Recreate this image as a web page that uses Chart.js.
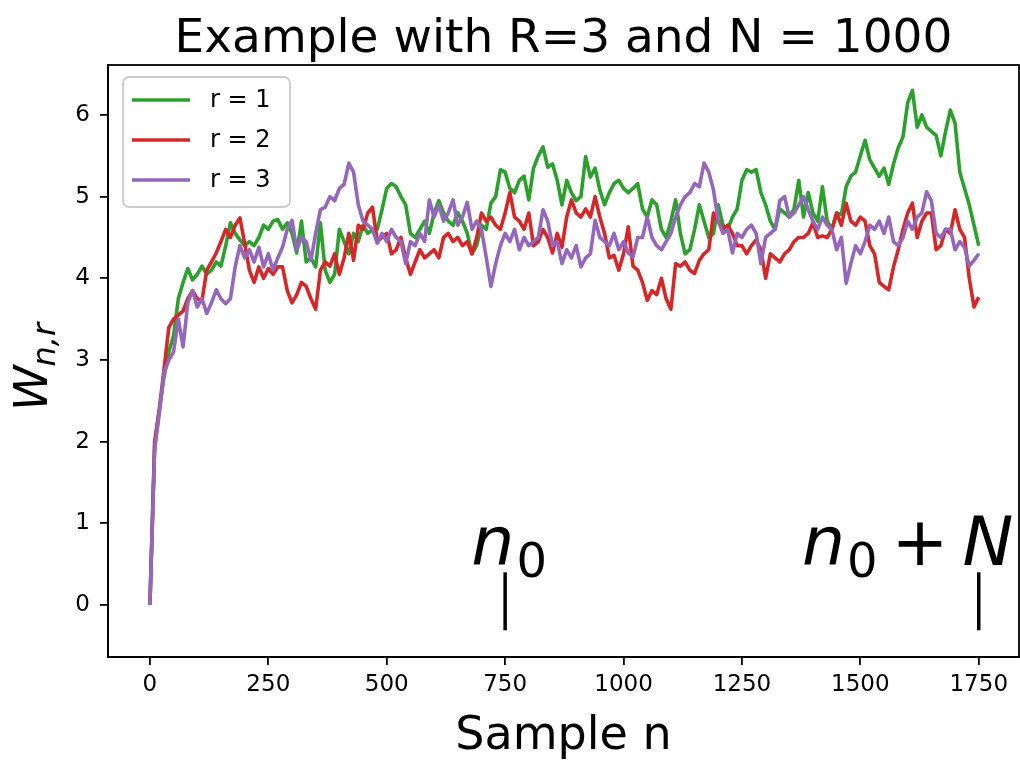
<!DOCTYPE html>
<html><head><meta charset="utf-8">
<script src="https://cdn.jsdelivr.net/npm/chart.js@4.4.0/dist/chart.umd.min.js"></script>
<style>html,body{margin:0;padding:0;background:#fff;} #wrap{width:1020px;height:762px;}</style>
</head><body><div id="wrap"><canvas id="c" width="1020" height="762"></canvas></div>
<script>
// ---- data ----
const sampleN = Array.from({length: 176}, (_, i) => i * 10);
const seriesR1 = [0,1.95,2.4,2.8,3.1,3.3,3.75,3.95,4.12,3.98,
4.05,4.15,4.05,4.1,4.2,4.15,4.4,4.68,4.55,4.47,
4.4,4.45,4.4,4.5,4.65,4.6,4.7,4.72,4.6,4.68,
4.55,4.31,4.7,4.2,4.25,4.14,4.68,4.1,3.95,4.05,
4.6,4.45,4.3,4.55,4.45,4.65,4.55,4.6,4.6,4.84,
5.1,5.16,5.12,5.0,4.9,4.55,4.5,4.6,4.7,4.55,
4.8,4.95,4.8,4.7,4.65,4.8,4.7,4.55,4.3,4.4,
4.65,4.6,4.92,5.0,5.33,5.3,5.1,5.05,5.2,5.25,
4.96,5.35,5.5,5.61,5.36,5.4,5.2,4.9,5.2,5.05,
4.95,5.0,5.49,5.24,5.35,5.08,4.9,5.05,5.16,5.2,
5.1,5.05,5.1,5.16,4.85,4.75,4.96,4.9,4.6,4.5,
4.7,4.96,4.55,4.3,4.35,4.6,4.9,4.7,4.5,4.55,
4.9,4.65,4.6,4.75,4.85,5.2,5.33,5.3,5.33,5.05,
4.9,4.7,4.6,4.85,4.8,4.75,4.85,5.2,4.75,5.05,
4.8,4.7,5.12,4.7,4.6,4.8,4.78,5.12,5.25,5.3,
5.5,5.69,5.45,5.35,5.25,5.35,5.15,5.4,5.6,5.73,
6.15,6.3,5.85,6.0,5.85,5.8,5.75,5.5,5.8,6.06,
5.9,5.3,5.1,4.9,4.65,4.4];
const seriesR2 = [0,2.0,2.4,2.9,3.4,3.5,3.55,3.6,3.75,3.85,
3.75,3.73,4.1,4.2,4.31,4.45,4.6,4.5,4.65,4.74,
4.43,4.1,3.95,4.14,4.0,4.12,4.05,4.14,4.14,3.85,
3.7,3.8,3.95,3.9,3.75,3.62,4.1,4.2,4.15,4.3,
4.05,4.25,4.55,4.22,4.65,4.6,4.8,4.87,4.45,4.5,
4.55,4.3,4.35,4.5,4.25,4.05,4.2,4.35,4.25,4.3,
4.35,4.25,4.5,4.55,4.45,4.5,4.4,4.45,4.3,4.5,
4.8,4.7,4.75,4.65,4.6,4.8,5.05,4.75,4.7,4.6,
4.8,4.4,4.45,4.6,4.5,4.31,4.55,4.38,4.75,4.96,
4.8,4.75,4.85,4.75,5.0,4.75,4.55,4.25,4.28,4.1,
4.3,4.63,4.15,4.1,3.95,3.73,3.85,3.8,4.0,3.75,
3.62,4.18,4.15,4.2,4.1,4.06,4.22,4.3,4.35,4.8,
4.7,4.6,4.65,4.55,4.4,4.4,4.3,4.4,4.47,4.35,
4.0,4.3,4.25,4.2,4.3,4.35,4.45,4.5,4.5,4.55,
4.68,4.5,4.52,4.5,4.6,4.8,4.65,4.92,4.7,4.65,
4.75,4.7,4.4,4.3,3.95,3.9,3.86,4.14,4.35,4.6,
4.8,4.92,4.5,4.7,4.8,4.8,4.35,4.4,4.6,4.55,
4.84,4.6,4.5,4.0,3.65,3.77];
const seriesR3 = [0,1.9,2.35,2.85,3.0,3.1,3.5,3.16,3.7,3.85,
3.65,3.75,3.57,3.7,3.86,3.75,3.69,3.75,4.14,4.4,
4.25,4.35,4.2,4.38,4.14,4.3,4.1,4.25,4.38,4.6,
4.71,4.35,4.5,4.45,4.22,4.55,4.84,4.87,5.0,4.95,
5.1,5.15,5.41,5.3,4.9,4.7,4.65,4.6,4.43,4.55,
4.45,4.6,4.5,4.45,4.18,4.45,4.4,4.55,4.45,4.96,
4.75,4.9,4.7,4.8,4.96,4.65,4.75,4.93,4.6,4.7,
4.6,4.26,3.9,4.18,4.4,4.55,4.45,4.6,4.35,4.5,
4.4,4.45,4.5,4.84,4.7,4.4,4.45,4.18,4.35,4.25,
4.4,4.14,4.25,4.3,4.71,4.5,4.45,4.4,4.55,4.35,
4.45,4.31,4.26,4.5,4.5,4.75,4.5,4.4,4.35,4.45,
4.55,4.75,4.9,5.0,5.05,5.16,5.12,5.41,5.3,5.08,
4.7,4.55,4.6,4.31,4.55,4.5,4.6,4.65,4.55,4.18,
4.5,4.55,4.6,4.95,5.0,4.75,4.8,4.9,5.0,4.84,
4.7,4.6,4.75,4.65,4.6,4.35,4.5,3.94,4.18,4.4,
4.3,4.45,4.65,4.6,4.7,4.55,4.75,4.45,4.4,4.5,
4.7,4.6,4.75,4.8,5.06,4.95,4.55,4.5,4.6,4.6,
4.35,4.45,4.38,4.15,4.22,4.3];
const seriesLabels = ['r = 1', 'r = 2', 'r = 3'];
const xTickValues = [0, 250, 500, 750, 1000, 1250, 1500, 1750];
const yTickValues = [0, 1, 2, 3, 4, 5, 6];
const titleText = 'Example with R=3 and N = 1000';
const xLabelText = 'Sample n';
const markN0 = 750;          // n0
const markN0N = 1750;        // n0 + N
const labelN0NCenter = 1600; // centre of the "n0 + N" text

// ---- styles ----
const colors = ['#2ca02c', '#d62728', '#9467bd'];
const FONT = '"DejaVu Sans", sans-serif';

function toPoints(arr) { return arr.map((v, i) => ({x: sampleN[i], y: v})); }

const allSeries = [seriesR1, seriesR2, seriesR3];
const datasets = allSeries.map((s, i) => ({
  label: seriesLabels[i],
  data: toPoints(s),
  borderColor: colors[i],
  backgroundColor: colors[i],
  borderWidth: 3.6,
  pointRadius: 0,
  tension: 0,
  fill: false,
  borderJoinStyle: 'round',
  order: 3 - i
}));

const decor = {
  id: 'decor',
  afterDraw(chart) {
    const ctx = chart.ctx, a = chart.chartArea;
    const xs = chart.scales.x, ys = chart.scales.y;
    ctx.save();
    // spines
    ctx.strokeStyle = '#000'; ctx.lineWidth = 1.8;
    ctx.strokeRect(a.left, a.top, a.right - a.left, a.bottom - a.top);
    ctx.fillStyle = '#000';
    // title
    ctx.font = '47px ' + FONT; ctx.textAlign = 'center'; ctx.textBaseline = 'alphabetic';
    ctx.fillText(titleText, (a.left + a.right) / 2, 52);
    // x label
    ctx.font = '46px ' + FONT;
    ctx.fillText(xLabelText, (a.left + a.right) / 2, 749);
    // y label W_{n,r}
    ctx.save();
    ctx.translate(47, 411); ctx.rotate(-Math.PI / 2);
    ctx.textAlign = 'left';
    ctx.font = 'italic 46px ' + FONT;
    ctx.fillText('W', 0, 0);
    const ww = ctx.measureText('W').width;
    ctx.font = 'italic 32px ' + FONT;
    ctx.fillText('n,r', ww - 1, 8);
    ctx.restore();
    // annotations
    const base = ys.getPixelForValue(0.49);
    ctx.textAlign = 'left';
    // n0
    ctx.font = 'italic 68px ' + FONT; const wn = ctx.measureText('n').width;
    ctx.font = '48px ' + FONT; const w0 = ctx.measureText('0').width;
    let sx = xs.getPixelForValue(markN0) - (wn + w0) / 2 + 3;
    ctx.font = 'italic 68px ' + FONT; ctx.fillText('n', sx, base);
    ctx.font = '48px ' + FONT; ctx.fillText('0', sx + wn + 2, base + 12);
    // n0 + N
    ctx.font = '68px ' + FONT; const wp = ctx.measureText('+').width;
    ctx.font = 'italic 68px ' + FONT; const wN = ctx.measureText('N').width;
    const gap = 14;
    const tot = wn + w0 + 2 + gap + wp + gap + wN;
    sx = xs.getPixelForValue(labelN0NCenter) - tot / 2;
    ctx.font = 'italic 68px ' + FONT; ctx.fillText('n', sx, base);
    ctx.font = '48px ' + FONT; ctx.fillText('0', sx + wn + 2, base + 12);
    let cx = sx + wn + 2 + w0 + gap;
    ctx.font = '68px ' + FONT; ctx.fillText('+', cx, base);
    cx += wp + gap;
    ctx.font = 'italic 68px ' + FONT; ctx.fillText('N', cx, base);
    // bars
    ctx.strokeStyle = '#000'; ctx.lineWidth = 3.5;
    [markN0, markN0N].forEach(v => {
      const px = xs.getPixelForValue(v);
      ctx.beginPath();
      ctx.moveTo(px, ys.getPixelForValue(0.40));
      ctx.lineTo(px, ys.getPixelForValue(-0.31));
      ctx.stroke();
    });
    // legend
    const lx = a.left + 15, ly = a.top + 12, lw = 167, lh = 130;
    ctx.beginPath();
    ctx.roundRect(lx, ly, lw, lh, 6);
    ctx.fillStyle = 'rgba(255,255,255,0.8)'; ctx.fill();
    ctx.strokeStyle = '#cccccc'; ctx.lineWidth = 1.8; ctx.stroke();
    ctx.font = '24px ' + FONT; ctx.textBaseline = 'middle'; ctx.textAlign = 'left';
    seriesLabels.forEach((lab, i) => {
      const yy = ly + 23 + 40 * i;
      ctx.strokeStyle = colors[i]; ctx.lineWidth = 3.3;
      ctx.beginPath(); ctx.moveTo(lx + 9, yy); ctx.lineTo(lx + 67, yy); ctx.stroke();
      ctx.fillStyle = '#000';
      ctx.fillText(lab, lx + 87, yy + 1);
    });
    ctx.restore();
  }
};

new Chart(document.getElementById('c'), {
  type: 'line',
  data: { datasets },
  options: {
    responsive: false,
    animation: false,
    devicePixelRatio: 1,
    layout: { padding: { top: 65, right: 1, left: 0, bottom: 0 } },
    plugins: { legend: { display: false }, title: { display: false }, tooltip: { enabled: false } },
    scales: {
      x: {
        type: 'linear', min: -88.5, max: 1835,
        afterBuildTicks: s => { s.ticks = xTickValues.map(v => ({value: v})); },
        afterFit: s => { s.height = 105; },
        grid: { display: true, drawOnChartArea: false, drawTicks: true, tickLength: 8, color: '#000', lineWidth: 1.8 },
        border: { display: true, color: '#000', width: 1.8 },
        ticks: { color: '#000', font: { family: 'DejaVu Sans', size: 23 }, padding: 6, maxRotation: 0,
                 callback: v => String(v) }
      },
      y: {
        type: 'linear', min: -0.637, max: 6.612,
        afterBuildTicks: s => { s.ticks = yTickValues.map(v => ({value: v})); },
        afterFit: s => { s.width = 108; },
        grid: { display: true, drawOnChartArea: false, drawTicks: true, tickLength: 8, color: '#000', lineWidth: 1.8 },
        border: { display: true, color: '#000', width: 1.8 },
        ticks: { color: '#000', font: { family: 'DejaVu Sans', size: 23 }, padding: 10,
                 callback: v => String(v) }
      }
    }
  },
  plugins: [decor]
});
</script>
</body></html>
